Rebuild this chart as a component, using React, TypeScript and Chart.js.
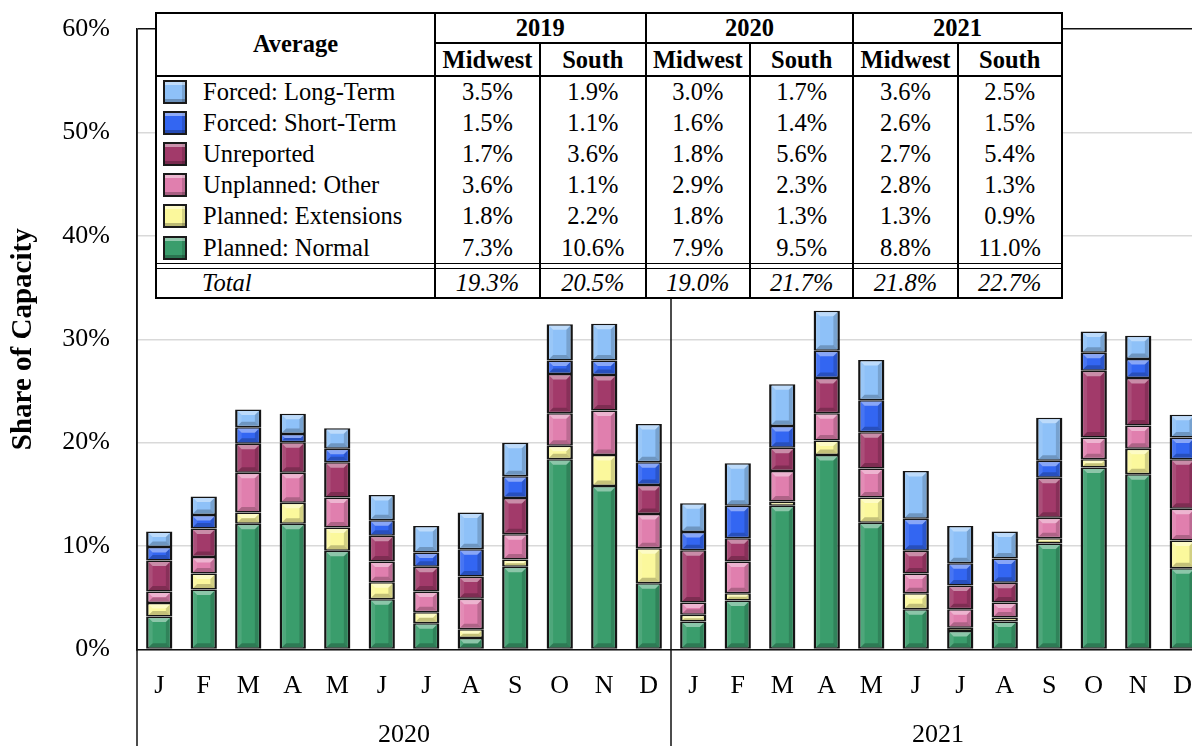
import React, { useEffect, useRef } from 'react';
import { Chart, registerables } from 'chart.js';

Chart.register(...registerables);

const MONTHS = ['J', 'F', 'M', 'A', 'M', 'J', 'J', 'A', 'S', 'O', 'N', 'D', 'J', 'F', 'M', 'A', 'M', 'J', 'J', 'A', 'S', 'O', 'N', 'D'];
const YEARS = ['2020', '2021'];

// stacked bottom -> top
const PLANNED_NORMAL = [3.2, 5.8, 12.15, 12.15, 9.55, 4.85, 2.55, 1.1, 8.0, 18.4, 15.8, 6.4, 2.7, 4.73, 13.9, 18.8, 12.25, 3.9, 1.8, 2.7, 10.25, 17.6, 16.95, 7.85];
const PLANNED_EXT = [1.3, 1.55, 1.1, 2.05, 2.25, 1.65, 1.05, 0.87, 0.7, 1.3, 3.0, 3.4, 0.65, 0.72, 0.4, 1.4, 2.45, 1.55, 0.3, 0.4, 0.5, 0.8, 2.45, 2.7];
const UNPLANNED_OTHER = [1.1, 1.6, 3.85, 2.9, 2.9, 2.0, 2.0, 2.93, 2.45, 3.15, 4.3, 3.3, 1.2, 3.05, 2.95, 2.65, 2.8, 1.9, 1.8, 1.45, 2.0, 2.1, 2.25, 3.05];
const UNREPORTED = [3.0, 2.75, 2.8, 2.95, 3.4, 2.5, 2.4, 2.15, 3.5, 3.8, 3.45, 2.8, 5.05, 2.25, 2.25, 3.4, 3.5, 2.2, 2.3, 1.9, 3.85, 6.45, 4.6, 4.8];
const FORCED_SHORT = [1.3, 1.3, 1.6, 0.8, 1.3, 1.5, 1.37, 2.65, 2.1, 1.3, 1.4, 2.2, 1.75, 3.15, 2.1, 2.65, 3.1, 3.1, 2.15, 2.35, 1.65, 1.75, 1.85, 2.1];
const FORCED_LONG = [1.5, 1.8, 1.7, 1.95, 2.0, 2.45, 2.58, 3.55, 3.25, 3.5, 3.55, 3.7, 2.8, 4.1, 4.05, 3.85, 3.9, 4.6, 3.6, 2.6, 4.15, 2.05, 2.25, 2.2];

const SERIES_NAMES = ['Planned: Normal', 'Planned: Extensions', 'Unplanned: Other', 'Unreported', 'Forced: Short-Term', 'Forced: Long-Term'];
const SERIES_COLORS = ['#3a9d6c', '#fbf89c', '#e07fae', '#a23a6a', '#3366f2', '#8ec1f8'];

// summary table
const TABLE_YEARS = ['2019', '2020', '2021'];
const TABLE_REGIONS = ['Midwest', 'South'];
const TABLE_LABELS = ['Forced: Long-Term', 'Forced: Short-Term', 'Unreported', 'Unplanned: Other', 'Planned: Extensions', 'Planned: Normal'];
const TABLE_COLORS = ['#8ec1f8', '#3366f2', '#a23a6a', '#e07fae', '#fbf89c', '#3a9d6c'];
const AVG_LONG = ['3.5%', '1.9%', '3.0%', '1.7%', '3.6%', '2.5%'];
const AVG_SHORT = ['1.5%', '1.1%', '1.6%', '1.4%', '2.6%', '1.5%'];
const AVG_UNREPORTED = ['1.7%', '3.6%', '1.8%', '5.6%', '2.7%', '5.4%'];
const AVG_OTHER = ['3.6%', '1.1%', '2.9%', '2.3%', '2.8%', '1.3%'];
const AVG_EXT = ['1.8%', '2.2%', '1.8%', '1.3%', '1.3%', '0.9%'];
const AVG_NORMAL = ['7.3%', '10.6%', '7.9%', '9.5%', '8.8%', '11.0%'];
const AVG_TOTAL = ['19.3%', '20.5%', '19.0%', '21.7%', '21.8%', '22.7%'];

const FONT = "'Liberation Serif', 'Times New Roman', serif";

const bevelPlugin = {
  id: 'bevel',
  afterDatasetsDraw(chart: any) {
    const ctx = chart.ctx;
    chart.data.datasets.forEach((_ds: any, di: number) => {
      const meta = chart.getDatasetMeta(di);
      meta.data.forEach((el: any) => {
        const p = el.getProps(['x', 'y', 'base', 'width'], true);
        const l = p.x - p.width / 2 + 2.5;
        const r = p.x + p.width / 2 - 2.5;
        const t = Math.min(p.y, p.base) + 1.5;
        const b = Math.max(p.y, p.base) - 1.5;
        if (b - t < 1) return;
        const s = Math.min(4, (b - t) / 2, (r - l) / 2);
        const poly = (pts: number[][], c: string) => {
          ctx.beginPath();
          ctx.moveTo(pts[0][0], pts[0][1]);
          for (let i = 1; i < pts.length; i++) ctx.lineTo(pts[i][0], pts[i][1]);
          ctx.closePath();
          ctx.fillStyle = c;
          ctx.fill();
        };
        ctx.save();
        poly([[l, t], [r, t], [r - s, t + s], [l + s, t + s]], 'rgba(255,255,255,0.42)');
        poly([[l, t], [l + s, t + s], [l + s, b - s], [l, b]], 'rgba(255,255,255,0.1)');
        poly([[r, t], [r, b], [r - s, b - s], [r - s, t + s]], 'rgba(0,0,0,0.16)');
        poly([[l, b], [r, b], [r - s, b - s], [l + s, b - s]], 'rgba(0,0,0,0.22)');
        ctx.restore();
      });
    });
  },
};

const separatorPlugin = {
  id: 'separators',
  afterDraw(chart: any) {
    const xs = chart.scales.x;
    const ctx = chart.ctx;
    const w = xs.getPixelForValue(1) - xs.getPixelForValue(0);
    const edges = [xs.getPixelForValue(0) - w / 2, xs.getPixelForValue(11) + w / 2, xs.getPixelForValue(23) + w / 2];
    ctx.save();
    ctx.strokeStyle = '#111';
    ctx.lineWidth = 1.5;
    edges.forEach((x) => {
      ctx.beginPath();
      ctx.moveTo(x, chart.chartArea.top);
      ctx.lineTo(x, chart.height);
      ctx.stroke();
    });
    ctx.restore();
  },
};

function ChartCanvas() {
  const ref = useRef<HTMLCanvasElement>(null);
  useEffect(() => {
    const values = [PLANNED_NORMAL, PLANNED_EXT, UNPLANNED_OTHER, UNREPORTED, FORCED_SHORT, FORCED_LONG];
    const chart = new Chart(ref.current as HTMLCanvasElement, {
      type: 'bar',
      data: {
        labels: MONTHS,
        datasets: values.map((v, i) => ({
          label: SERIES_NAMES[i],
          data: v,
          backgroundColor: SERIES_COLORS[i],
          borderColor: '#151515',
          borderWidth: { left: 2.5, right: 2.5, top: 1.5, bottom: 1.5 },
          borderSkipped: false,
          barPercentage: 0.59,
          categoryPercentage: 1,
        })),
      },
      options: {
        responsive: false,
        animation: false,
        devicePixelRatio: 1,
        layout: { padding: { top: 29, right: 10, left: 0, bottom: 0 } },
        plugins: { legend: { display: false }, tooltip: { enabled: false } },
        scales: {
          x: {
            type: 'category',
            stacked: true,
            position: 'bottom',
            weight: 0,
            grid: { display: false },
            border: { display: true, color: '#111', width: 1.5 },
            ticks: { font: { family: FONT, size: 26 }, color: '#000', padding: 13, maxRotation: 0, autoSkip: false },
            afterFit: (s: any) => { s.height = 56; },
          },
          x2: {
            type: 'category',
            labels: YEARS,
            offset: true,
            position: 'bottom',
            weight: 1,
            grid: { display: false },
            border: { display: false },
            ticks: { font: { family: FONT, size: 26 }, color: '#000', padding: 6, maxRotation: 0 },
            afterFit: (s: any) => { s.height = 40.5; },
          },
          y: {
            stacked: true,
            min: 0,
            max: 60,
            ticks: { stepSize: 10, font: { family: FONT, size: 26 }, color: '#000', padding: 12, callback: (v: any) => v + '%' },
            grid: {
              drawTicks: true,
              tickLength: 15,
              tickColor: 'rgba(0,0,0,0)',
              color: (c: any) => (c.tick && c.tick.value === 60 ? '#111' : '#d9d9d9'),
              lineWidth: 1.5,
            },
            border: { display: true, color: '#111', width: 1.5 },
            title: { display: true, text: 'Share of Capacity', font: { family: FONT, size: 29, weight: 'bold' }, color: '#000', padding: { top: 6, bottom: 0 } },
            afterFit: (s: any) => { s.width = 137; },
          },
        },
      },
      plugins: [bevelPlugin, separatorPlugin],
    } as any);
    return () => chart.destroy();
  }, []);
  return <canvas ref={ref} width={1215} height={746} style={{ width: 1215, height: 746, display: 'block' }} />;
}

const COLS = [156, 435, 540, 645.7, 750, 853.3, 957.7, 1061.7];
const ROW_TOP = 12.7;
const ROW_YEAR = 43.3;
const ROW_HEAD = 76;
const ROW_DATA_END = 263.3;
const ROW_DOUBLE = 268.3;
const ROW_BOTTOM = 298.3;

function HLine({ y, x1, x2, t = 2 }: any) {
  return <div style={{ position: 'absolute', left: x1 - 1, top: y - t / 2, width: x2 - x1 + 2, height: t, background: '#000' }} />;
}
function VLine({ x, y1, y2, t = 2 }: any) {
  return <div style={{ position: 'absolute', left: x - t / 2, top: y1 - 1, width: t, height: y2 - y1 + 2, background: '#000' }} />;
}
function Cell({ x1, x2, y1, y2, children, style }: any) {
  return (
    <div style={{ position: 'absolute', left: x1, top: y1, width: x2 - x1, height: y2 - y1, display: 'flex', alignItems: 'center', justifyContent: 'center', whiteSpace: 'nowrap', ...style }}>
      {children}
    </div>
  );
}

function SummaryTable() {
  const rows = [AVG_LONG, AVG_SHORT, AVG_UNREPORTED, AVG_OTHER, AVG_EXT, AVG_NORMAL];
  const rh = (ROW_DATA_END - ROW_HEAD) / rows.length;
  const els: any[] = [];
  els.push(<div key="bg" style={{ position: 'absolute', left: COLS[0], top: ROW_TOP, width: COLS[7] - COLS[0], height: ROW_BOTTOM - ROW_TOP, background: '#fff' }} />);
  els.push(<Cell key="avg" x1={COLS[0]} x2={COLS[1]} y1={ROW_TOP} y2={ROW_HEAD} style={{ fontWeight: 'bold' }}>Average</Cell>);
  TABLE_YEARS.forEach((yr, i) => {
    els.push(<Cell key={'y' + i} x1={COLS[1 + i * 2]} x2={COLS[3 + i * 2]} y1={ROW_TOP} y2={ROW_YEAR} style={{ fontWeight: 'bold' }}>{yr}</Cell>);
    TABLE_REGIONS.forEach((rg, j) => {
      els.push(<Cell key={'r' + i + j} x1={COLS[1 + i * 2 + j]} x2={COLS[2 + i * 2 + j]} y1={ROW_YEAR} y2={ROW_HEAD} style={{ fontWeight: 'bold' }}>{rg}</Cell>);
    });
  });
  rows.forEach((vals, r) => {
    const y1 = ROW_HEAD + r * rh;
    const y2 = y1 + rh;
    els.push(
      <Cell key={'l' + r} x1={COLS[0]} x2={COLS[1]} y1={y1} y2={y2} style={{ justifyContent: 'flex-start' }}>
        <span style={{ display: 'inline-block', width: 20, height: 20, marginLeft: 7, marginRight: 16, border: '2px solid #1a1a1a', background: TABLE_COLORS[r], boxShadow: 'inset 0 3px 0 rgba(255,255,255,0.45), inset -3px 0 0 rgba(0,0,0,0.15), inset 0 -3px 0 rgba(0,0,0,0.25)' }} />
        {TABLE_LABELS[r]}
      </Cell>
    );
    vals.forEach((v, c) => {
      els.push(<Cell key={'v' + r + c} x1={COLS[1 + c]} x2={COLS[2 + c]} y1={y1} y2={y2}>{v}</Cell>);
    });
  });
  els.push(<Cell key="tl" x1={COLS[0]} x2={COLS[1]} y1={ROW_DOUBLE} y2={ROW_BOTTOM} style={{ fontStyle: 'italic', justifyContent: 'flex-start', paddingLeft: 46 }}>Total</Cell>);
  AVG_TOTAL.forEach((v, c) => {
    els.push(<Cell key={'t' + c} x1={COLS[1 + c]} x2={COLS[2 + c]} y1={ROW_DOUBLE} y2={ROW_BOTTOM} style={{ fontStyle: 'italic' }}>{v}</Cell>);
  });
  els.push(<HLine key="h0" y={ROW_TOP} x1={COLS[0]} x2={COLS[7]} />);
  els.push(<HLine key="h1" y={ROW_YEAR} x1={COLS[1]} x2={COLS[7]} />);
  els.push(<HLine key="h2" y={ROW_HEAD} x1={COLS[0]} x2={COLS[7]} />);
  els.push(<HLine key="h3" y={ROW_DATA_END} x1={COLS[0]} x2={COLS[7]} t={1.5} />);
  els.push(<HLine key="h4" y={ROW_DOUBLE} x1={COLS[0]} x2={COLS[7]} t={1.5} />);
  els.push(<HLine key="h5" y={ROW_BOTTOM} x1={COLS[0]} x2={COLS[7]} />);
  [0, 1, 3, 5, 7].forEach((ci) => els.push(<VLine key={'vf' + ci} x={COLS[ci]} y1={ROW_TOP} y2={ROW_BOTTOM} />));
  [2, 4, 6].forEach((ci) => els.push(<VLine key={'vh' + ci} x={COLS[ci]} y1={ROW_YEAR} y2={ROW_BOTTOM} />));
  return <div style={{ position: 'absolute', left: 0, top: 0, fontFamily: FONT, fontSize: 24.5, color: '#000' }}>{els}</div>;
}

export default function App() {
  return (
    <div style={{ position: 'fixed', left: 0, top: 0, width: 1192, height: 746, overflow: 'hidden', background: '#fff' }}>
      <ChartCanvas />
      <SummaryTable />
    </div>
  );
}
